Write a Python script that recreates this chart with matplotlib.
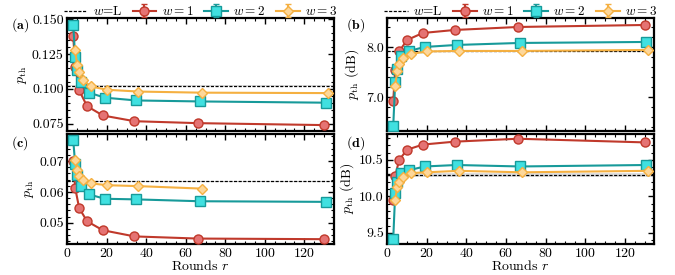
import matplotlib
matplotlib.use("Agg")
import matplotlib.pyplot as plt
from matplotlib.ticker import MultipleLocator

plt.rcParams['font.family'] = 'serif'
plt.rcParams['font.serif'] = ['cmr10', 'DejaVu Serif']
plt.rcParams['mathtext.fontset'] = 'cm'
plt.rcParams['axes.formatter.use_mathtext'] = True
plt.rcParams['axes.unicode_minus'] = False

# ---------------- data ----------------
r_w1 = [3, 4, 6, 10, 18, 34, 66, 130]
r_w2 = [3, 4, 5, 7, 11, 19, 35, 67, 131]
r_w3 = [4, 5, 6, 8, 12, 20, 36, 68, 132]
r_w3_c = [4, 5, 6, 8, 12, 20, 36, 68]

# (a) p_th
a_w1 = [0.1378, 0.1160, 0.0989, 0.0875, 0.0808, 0.0767, 0.0753, 0.0739]
a_w2 = [0.1457, 0.1229, 0.1133, 0.1048, 0.0972, 0.0936, 0.0916, 0.0909, 0.0900]
a_w3 = [0.1277, 0.1169, 0.1120, 0.1060, 0.1017, 0.0993, 0.0980, 0.0972, 0.0969]
a_L = 0.1022

# (b) p_th (dB)
b_w1 = [6.93, 7.55, 7.92, 8.15, 8.29, 8.35, 8.41, 8.45]
b_w2 = [6.43, 7.31, 7.57, 7.83, 7.93, 8.01, 8.05, 8.09, 8.11]
b_w3 = [7.23, 7.52, 7.67, 7.79, 7.87, 7.92, 7.93, 7.93, 7.95]
b_L = 7.92

# (c) p_th
c_w1 = [0.0701, 0.0613, 0.0548, 0.0505, 0.0476, 0.0456, 0.0449, 0.0447]
c_w2 = [0.0768, 0.0690, 0.0655, 0.0620, 0.0592, 0.0578, 0.0576, 0.0570, 0.0568]
c_w3 = [0.0705, 0.0671, 0.0651, 0.0638, 0.0628, 0.0622, 0.0619, 0.0611]
c_L = 0.0635

# (d) p_th (dB)
d_w1 = [9.945, 10.28, 10.50, 10.64, 10.71, 10.75, 10.79, 10.74]
d_w2 = [9.42, 10.05, 10.20, 10.32, 10.36, 10.41, 10.43, 10.41, 10.43]
d_w3 = [9.945, 10.13, 10.20, 10.27, 10.32, 10.33, 10.35, 10.33, 10.35]
d_L = 10.29

panel_labels = ['(a)', '(b)', '(c)', '(d)']
legend_labels = ['$w$=L', '$w=1$', '$w=2$', '$w=3$']

# ---------------- styles ----------------
sty = [
    dict(color='#c0392b', mfc='#e57373', mec='#c0392b', marker='o', ms=6.5),
    dict(color='#179a9a', mfc='#40e0e0', mec='#179a9a', marker='s', ms=6.5),
    dict(color='#f5b041', mfc='#fdd79a', mec='#f5b041', marker='D', ms=5.5),
]

fig = plt.figure(figsize=(6.75, 2.75), dpi=100)
W, H = 675.0, 275.0
def ax_at(x0, x1, y0, y1):
    return fig.add_axes([x0 / W, 1 - y1 / H, (x1 - x0) / W, (y1 - y0) / H])

axa = ax_at(67.3, 333.5, 18.5, 130.8)
axb = ax_at(387.3, 654.0, 18.5, 130.8)
axc = ax_at(67.3, 333.5, 134.0, 243.5)
axd = ax_at(387.3, 654.0, 134.0, 243.5)

def draw(ax, xs, ys, L, band):
    ax.axhspan(L - band, L + band, color='0.75', alpha=0.5, lw=0, zorder=1)
    h0, = ax.plot([0, 135], [L, L], ls=(0, (2.5, 1.2)), color='k', lw=0.9, zorder=2)
    hs = [h0]
    for x, y, s in zip(xs, ys, sty):
        h = ax.errorbar(x, y, yerr=[0.0] * len(y), capsize=2.5, lw=1.5,
                        mew=1.0, zorder=3, **s)
        hs.append(h)
    ax.set_xlim(0, 134.8)
    ax.xaxis.set_major_locator(MultipleLocator(20))
    ax.xaxis.set_minor_locator(MultipleLocator(5))
    ax.tick_params(which='both', direction='in', top=True, right=True, labelsize=10)
    ax.tick_params(which='major', length=4, width=1.0, pad=2.5)
    ax.tick_params(which='minor', length=2, width=0.8)
    for sp in ax.spines.values():
        sp.set_linewidth(1.6)
    return hs

hs = draw(axa, [r_w1, r_w2, r_w3], [a_w1, a_w2, a_w3], a_L, 0.0003)
axa.set_ylim(0.0698, 0.1505)
axa.yaxis.set_major_locator(MultipleLocator(0.025))
axa.yaxis.set_minor_locator(MultipleLocator(0.005))
axa.yaxis.set_major_formatter(matplotlib.ticker.FormatStrFormatter('%.3f'))
axa.set_ylabel(r'$p_{\rm th}$', fontsize=10, labelpad=2)
axa.tick_params(labelbottom=False)

draw(axb, [r_w1, r_w2, r_w3], [b_w1, b_w2, b_w3], b_L, 0.01)
axb.set_ylim(6.33, 8.58)
axb.yaxis.set_major_locator(MultipleLocator(1.0))
axb.yaxis.set_minor_locator(MultipleLocator(0.2))
axb.yaxis.set_major_formatter(matplotlib.ticker.FormatStrFormatter('%.1f'))
axb.set_ylabel(r'$p_{\rm th}$ (dB)', fontsize=10, labelpad=4)
axb.tick_params(labelbottom=False)

draw(axc, [r_w1, r_w2, r_w3_c], [c_w1, c_w2, c_w3], c_L, 0.0002)
axc.set_ylim(0.0433, 0.0788)
axc.yaxis.set_major_locator(MultipleLocator(0.01))
axc.yaxis.set_minor_locator(MultipleLocator(0.002))
axc.yaxis.set_major_formatter(matplotlib.ticker.FormatStrFormatter('%.2f'))
axc.set_ylabel(r'$p_{\rm th}$', fontsize=10, labelpad=2)
axc.set_xlabel(r'Rounds $r$', fontsize=10, labelpad=-1)

draw(axd, [r_w1, r_w2, r_w3], [d_w1, d_w2, d_w3], d_L, 0.025)
axd.set_ylim(9.354, 10.855)
axd.yaxis.set_major_locator(MultipleLocator(0.5))
axd.yaxis.set_minor_locator(MultipleLocator(0.1))
axd.yaxis.set_major_formatter(matplotlib.ticker.FormatStrFormatter('%.1f'))
axd.set_ylabel(r'$p_{\rm th}$ (dB)', fontsize=10, labelpad=2)
axd.set_xlabel(r'Rounds $r$', fontsize=10, labelpad=-1)

for ax in (axa, axb):
    ax.legend(hs, legend_labels, loc='lower center', bbox_to_anchor=(0.5, 0.99),
              ncol=4, frameon=False, fontsize=9.5, handlelength=1.8,
              handletextpad=0.4, columnspacing=0.8, borderaxespad=0.0,
              borderpad=0.1)

fig.text(20 / W, 1 - 25 / H, r'$\mathbf{(a)}$', ha='center', va='center', fontsize=10)
fig.text(356 / W, 1 - 25 / H, r'$\mathbf{(b)}$', ha='center', va='center', fontsize=10)
fig.text(20 / W, 1 - 143 / H, r'$\mathbf{(c)}$', ha='center', va='center', fontsize=10)
fig.text(356 / W, 1 - 143 / H, r'$\mathbf{(d)}$', ha='center', va='center', fontsize=10)

fig.savefig('out.png', dpi=100)
